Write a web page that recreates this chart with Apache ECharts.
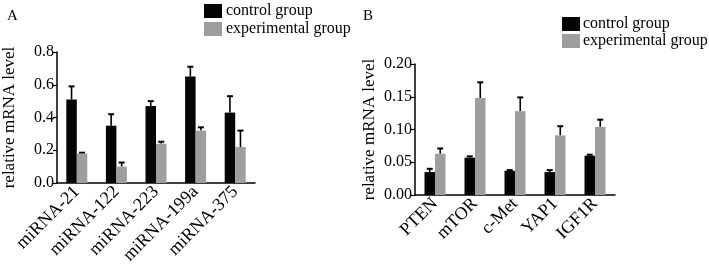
<!DOCTYPE html>
<html><head><meta charset="utf-8">
<script src="https://cdn.jsdelivr.net/npm/echarts@6/dist/echarts.min.js"></script>
<style>html,body{margin:0;padding:0;background:#fff}#c{width:709px;height:267px}</style>
</head><body><div id="c"></div>
<script>
const catsA = ['miRNA-21','miRNA-122','miRNA-223','miRNA-199a','miRNA-375'];
const ctrlA = [0.51, 0.35, 0.47, 0.65, 0.43];
const ctrlAErr = [0.08, 0.07, 0.03, 0.06, 0.10];
const expA = [0.18, 0.10, 0.24, 0.32, 0.22];
const expAErr = [0.005, 0.025, 0.012, 0.02, 0.10];
const ticksA = [0, 0.2, 0.4, 0.6, 0.8];

const catsB = ['PTEN','mTOR','c-Met','YAP1','IGF1R'];
const ctrlB = [0.035, 0.057, 0.037, 0.035, 0.060];
const ctrlBErr = [0.005, 0.002, 0.001, 0.003, 0.0015];
const expB = [0.063, 0.148, 0.128, 0.091, 0.104];
const expBErr = [0.008, 0.024, 0.021, 0.014, 0.011];
const ticksB = [0, 0.05, 0.10, 0.15, 0.20];

const FONT = 'Liberation Serif';
const BAR_W = 10.5;
const CTRL_COLOR = '#050505';
const EXP_COLOR = '#9e9e9e';

function errSeries(idx, vals, errs, offsetSign) {
  return {
    type: 'custom', xAxisIndex: idx, yAxisIndex: idx, z: 1, silent: true,
    data: vals.map((v, i) => [i, v, v + errs[i]]),
    renderItem: function (params, api) {
      const base = api.coord([api.value(0), api.value(1)]);
      const top = api.coord([api.value(0), api.value(2)]);
      const x = base[0] + offsetSign * BAR_W / 2;
      return {
        type: 'group', children: [
          { type: 'line', shape: { x1: x, y1: base[1], x2: x, y2: top[1] }, style: { stroke: '#000', lineWidth: 1.6 } },
          { type: 'line', shape: { x1: x - 3, y1: top[1], x2: x + 3, y2: top[1] }, style: { stroke: '#000', lineWidth: 2 } }
        ]
      };
    }
  };
}

function xAx(idx, cats) {
  return {
    type: 'category', gridIndex: idx, data: cats,
    axisLine: { lineStyle: { color: '#000', width: 1.5 } },
    axisTick: { alignWithLabel: true, length: 4, lineStyle: { color: '#000', width: 1.2 } },
    axisLabel: { rotate: 45, color: '#000', fontFamily: FONT, fontSize: 18, margin: 6 }
  };
}
function yAx(idx, ticks, dec, nameGap) {
  return {
    type: 'value', gridIndex: idx, min: ticks[0], max: ticks[ticks.length - 1],
    interval: ticks[1] - ticks[0],
    name: 'relative mRNA level', nameLocation: 'middle', nameGap: nameGap,
    nameTextStyle: { color: '#000', fontFamily: FONT, fontSize: 17 },
    axisLine: { show: true, lineStyle: { color: '#000', width: 1.5 } },
    axisTick: { show: true, length: 4, lineStyle: { color: '#000', width: 1.2 } },
    splitLine: { show: false },
    axisLabel: { color: '#000', fontFamily: FONT, fontSize: 16, margin: 3, formatter: v => v.toFixed(dec) }
  };
}

const chart = echarts.init(document.getElementById('c'));
chart.setOption({
  animation: false,
  textStyle: { fontFamily: FONT },
  title: [
    { text: 'A', left: 2, top: 4, textStyle: { fontFamily: FONT, fontSize: 15, fontWeight: 'normal', color: '#000' } },
    { text: 'B', left: 358, top: 4, textStyle: { fontFamily: FONT, fontSize: 15, fontWeight: 'normal', color: '#000' } }
  ],
  legend: [
    { left: 199, top: -2, orient: 'vertical', itemWidth: 18, itemHeight: 14, itemGap: 2, icon: 'rect',
      textStyle: { fontFamily: FONT, fontSize: 16, color: '#000', padding: [0, 0, 0, -1] }, data: ['control group', 'experimental group'] },
    { left: 557, top: 11, orient: 'vertical', itemWidth: 18, itemHeight: 14, itemGap: 1, icon: 'rect',
      textStyle: { fontFamily: FONT, fontSize: 16, color: '#000', padding: [0, 0, 0, -2] }, data: ['control group', 'experimental group'] }
  ],
  grid: [
    { left: 57, top: 52, width: 198, height: 131 },
    { left: 415, top: 64, width: 200, height: 131 }
  ],
  xAxis: [xAx(0, catsA), xAx(1, catsB)],
  yAxis: [yAx(0, ticksA, 1, 39), yAx(1, ticksB, 2, 37)],
  series: [
    { name: 'control group', type: 'bar', xAxisIndex: 0, yAxisIndex: 0, data: ctrlA, barWidth: BAR_W, barGap: '0%', itemStyle: { color: CTRL_COLOR }, z: 2 },
    { name: 'experimental group', type: 'bar', xAxisIndex: 0, yAxisIndex: 0, data: expA, barWidth: BAR_W, barGap: '0%', itemStyle: { color: EXP_COLOR }, z: 2 },
    errSeries(0, ctrlA, ctrlAErr, -1),
    errSeries(0, expA, expAErr, 1),
    { name: 'control group', type: 'bar', xAxisIndex: 1, yAxisIndex: 1, data: ctrlB, barWidth: BAR_W, barGap: '0%', itemStyle: { color: CTRL_COLOR }, z: 2 },
    { name: 'experimental group', type: 'bar', xAxisIndex: 1, yAxisIndex: 1, data: expB, barWidth: BAR_W, barGap: '0%', itemStyle: { color: EXP_COLOR }, z: 2 },
    errSeries(1, ctrlB, ctrlBErr, -1),
    errSeries(1, expB, expBErr, 1)
  ]
});
</script></body></html>
